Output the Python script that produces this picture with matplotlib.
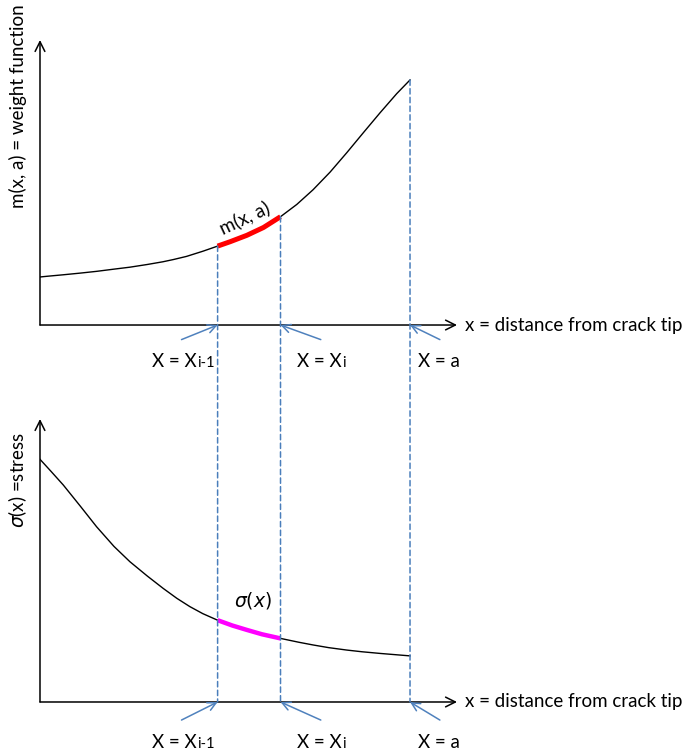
import numpy as np
import matplotlib
matplotlib.use("Agg")
import matplotlib.pyplot as plt
from matplotlib.patches import ConnectionPatch

plt.rcParams['font.family'] = ['Lato', 'DejaVu Sans']
plt.rcParams['mathtext.fontset'] = 'dejavusans'

# positions along the crack (a = 1)
x_prev = 0.48
x_cur = 0.65
a = 1.0

# weight function m(x, a)
x_m = [0, 0.02, 0.063, 0.11, 0.153, 0.2, 0.243, 0.29, 0.332, 0.36, 0.396,
       0.44, 0.48, 0.514, 0.559, 0.604, 0.65, 0.694, 0.738, 0.784, 0.829,
       0.874, 0.919, 0.964, 1.0]
m_vals = [0.196, 0.199, 0.205, 0.212, 0.219, 0.228, 0.236, 0.247, 0.258, 0.267,
          0.280, 0.301, 0.322, 0.340, 0.366, 0.398, 0.442, 0.492, 0.552, 0.624,
          0.703, 0.785, 0.866, 0.944, 1.0]

# stress sigma(x)
x_s = [0, 0.03, 0.063, 0.11, 0.153, 0.2, 0.243, 0.29, 0.333, 0.37, 0.405,
       0.44, 0.48, 0.52, 0.559, 0.6, 0.65, 0.7, 0.738, 0.78, 0.829, 0.87,
       0.92, 0.96, 1.0]
s_vals = [1.0, 0.95, 0.894, 0.805, 0.722, 0.641, 0.578, 0.519, 0.468, 0.427,
          0.393, 0.364, 0.337, 0.315, 0.297, 0.279, 0.262, 0.246, 0.235, 0.224,
          0.214, 0.207, 0.200, 0.195, 0.190]

x_label_main = ["X = X", "X = X", "X = a"]
x_label_sub = ["i-1", "i", ""]
x_title = "x = distance from crack tip"

blue = "#4f81bd"
dash_blue = "#4a7ebb"
fs = 13.5

fig = plt.figure(figsize=(6.86, 7.52), dpi=100)
ax1 = fig.add_axes([0.0583, 0.5678, 0.6079, 0.379])
ax2 = fig.add_axes([0.0583, 0.0665, 0.6079, 0.3763])
ax1.set_xlim(0, 1.127)
ax1.set_ylim(0, 1.163)
ax2.set_xlim(0, 1.127)
ax2.set_ylim(0, 1.166)


def segment(xs, ys, lo, hi):
    xs = np.asarray(xs)
    ys = np.asarray(ys)
    keep = (xs >= lo - 1e-9) & (xs <= hi + 1e-9)
    return xs[keep], ys[keep]


def frame(ax, arrow_offsets, label_offsets):
    ax.axis('off')
    axis_arrow = dict(arrowstyle='->, head_length=0.7, head_width=0.35',
                      color='black', lw=1.1, shrinkA=0, shrinkB=0)
    ax.annotate('', xy=(1, 0), xytext=(0, 0), xycoords='axes fraction',
                arrowprops=axis_arrow, annotation_clip=False)
    ax.annotate('', xy=(0, 1), xytext=(0, 0), xycoords='axes fraction',
                arrowprops=axis_arrow, annotation_clip=False)
    ax.annotate(x_title, xy=(1, 0), xycoords='axes fraction',
                xytext=(6, 0), textcoords='offset points',
                ha='left', va='center', fontsize=fs)
    for xv, off, main, sub, loff in zip([x_prev, x_cur, a], arrow_offsets,
                                        x_label_main, x_label_sub, label_offsets):
        ax.annotate('', xy=(xv, 0), xytext=off, textcoords='offset points',
                    arrowprops=dict(arrowstyle='->, head_length=0.6, head_width=0.3',
                                    color=blue, lw=1.1, shrinkA=0, shrinkB=0),
                    annotation_clip=False)
        t = ax.annotate(main, xy=(xv, 0), xytext=loff, textcoords='offset points',
                        ha='left', va='center', fontsize=fs, annotation_clip=False)
        if sub:
            ax.annotate(sub, xy=(1, 0), xycoords=t, xytext=(0.3, 0),
                        textcoords='offset points', ha='left', va='bottom',
                        fontsize=fs * 0.78, annotation_clip=False)


# weight function panel
ax1.plot(x_m, m_vals, color='black', lw=1.0)
sx, sy = segment(x_m, m_vals, x_prev, x_cur)
ax1.plot(sx, sy, color='#ff0000', lw=3.6, solid_capstyle='butt')
ax1.text(0.553, 0.437, "m(x, a)", rotation=25, fontsize=fs,
         ha='center', va='center')
frame(ax1, [(-26, -10.5), (29, -10.5), (21.5, -10.5)],
      [(-47, -26), (12, -26), (6, -26)])

# stress panel
ax2.plot(x_s, s_vals, color='black', lw=1.0)
sx, sy = segment(x_s, s_vals, x_prev, x_cur)
ax2.plot(sx, sy, color='#ff00ff', lw=3.2, solid_capstyle='butt')
ax2.text(0.575, 0.42, r"$\sigma(x)$", fontsize=fs, ha='center', va='center')
frame(ax2, [(-26, -13), (29, -13), (21.5, -13)],
      [(-47, -29), (12, -29), (6, -29)])

# dashed guides from the weight function down to the lower x axis
for xv in [x_prev, x_cur, a]:
    top_y = np.interp(xv, x_m, m_vals)
    con = ConnectionPatch(xyA=(xv, top_y), coordsA=ax1.transData,
                          xyB=(xv, 0), coordsB=ax2.transData,
                          color=dash_blue, lw=1.1, linestyle=(0, (3.5, 2.2)))
    fig.add_artist(con)

fig.text(18 / 686, 1 - 106 / 752, "m(x, a) = weight function", rotation=90,
         ha='center', va='center', fontsize=fs)
fig.text(18 / 686, 1 - 480 / 752, r"$\sigma$(x) =stress", rotation=90,
         ha='center', va='center', fontsize=fs)

fig.savefig("out.png", dpi=100)
